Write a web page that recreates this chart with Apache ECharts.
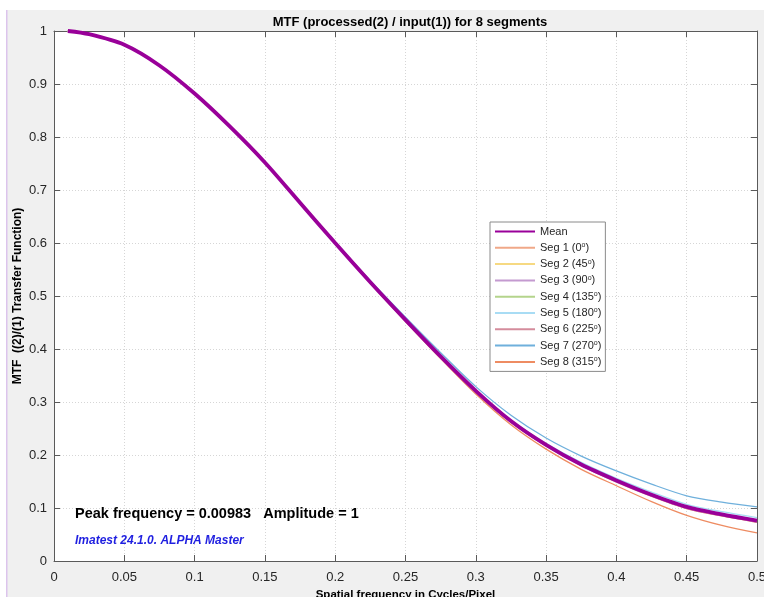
<!DOCTYPE html>
<html lang="en">
<head>
    <meta charset="utf-8">
    <title>MTF</title>
    <script src="https://cdn.jsdelivr.net/npm/echarts@6/dist/echarts.min.js"></script>
    <style>
        html, body { margin: 0; padding: 0; background: #fff; }
        #chart { width: 764px; height: 597px; }
    </style>
</head>
<body>
<div id="chart"></div>
<script>
    // spatial frequency (cycles/pixel)
    var freq = [0.00983, 0.025, 0.05, 0.075, 0.1, 0.125, 0.15, 0.175, 0.2, 0.225, 0.25,
                0.275, 0.3, 0.325, 0.35, 0.375, 0.4, 0.425, 0.45, 0.475, 0.5];

    var meanMtf = [1.000, 0.994, 0.974, 0.935, 0.882, 0.820, 0.752, 0.676, 0.600, 0.526, 0.455,
                   0.386, 0.321, 0.264, 0.219, 0.182, 0.152, 0.125, 0.102, 0.088, 0.076];
    var seg1 = [1.000, 0.994, 0.974, 0.935, 0.882, 0.820, 0.752, 0.676, 0.600, 0.526, 0.455,
                0.386, 0.320, 0.263, 0.218, 0.181, 0.150, 0.123, 0.099, 0.085, 0.073];
    var seg2 = [1.000, 0.994, 0.974, 0.935, 0.882, 0.820, 0.752, 0.676, 0.600, 0.526, 0.455,
                0.386, 0.321, 0.263, 0.218, 0.181, 0.151, 0.124, 0.100, 0.086, 0.074];
    var seg3 = [1.000, 0.994, 0.974, 0.935, 0.882, 0.820, 0.752, 0.676, 0.600, 0.526, 0.455,
                0.386, 0.320, 0.263, 0.218, 0.181, 0.150, 0.123, 0.100, 0.086, 0.074];
    var seg4 = [1.000, 0.994, 0.974, 0.935, 0.882, 0.820, 0.752, 0.676, 0.600, 0.526, 0.455,
                0.386, 0.321, 0.264, 0.219, 0.182, 0.151, 0.124, 0.101, 0.087, 0.075];
    var seg5 = [1.000, 0.994, 0.974, 0.935, 0.882, 0.820, 0.752, 0.676, 0.600, 0.526, 0.455,
                0.387, 0.322, 0.266, 0.222, 0.186, 0.156, 0.130, 0.107, 0.093, 0.082];
    var seg6 = [1.000, 0.994, 0.974, 0.935, 0.882, 0.820, 0.752, 0.676, 0.600, 0.526, 0.454,
                0.385, 0.319, 0.262, 0.217, 0.180, 0.149, 0.122, 0.099, 0.085, 0.073];
    var seg7 = [1.000, 0.994, 0.974, 0.935, 0.882, 0.820, 0.752, 0.677, 0.602, 0.529, 0.460,
                0.393, 0.329, 0.275, 0.232, 0.198, 0.170, 0.145, 0.123, 0.111, 0.102];
    var seg8 = [1.000, 0.994, 0.974, 0.935, 0.882, 0.820, 0.751, 0.675, 0.599, 0.524, 0.452,
                0.382, 0.315, 0.257, 0.211, 0.173, 0.142, 0.112, 0.086, 0.067, 0.053];

    var segNames = ['Seg 1 (0°)', 'Seg 2 (45°)', 'Seg 3 (90°)', 'Seg 4 (135°)',
                    'Seg 5 (180°)', 'Seg 6 (225°)', 'Seg 7 (270°)', 'Seg 8 (315°)'];
    var segData = [seg1, seg2, seg3, seg4, seg5, seg6, seg7, seg8];
    var segColors = ['#f0a888', '#f6d982', '#c49ad0', '#b4d48c', '#a8dcf4', '#d48c9c', '#6fb0dc', '#ee8c62'];

    var xTicks = {min: 0, max: 0.5, interval: 0.05};
    var yTicks = {min: 0, max: 1, interval: 0.1};

    function pairs(ys) {
        return freq.map(function (f, i) { return [f, ys[i]]; });
    }

    var series = segData.map(function (d, i) {
        return {
            name: segNames[i],
            type: 'line',
            data: pairs(d),
            smooth: 0.3,
            symbol: 'none',
            z: 2 + i,
            lineStyle: {color: segColors[i], width: 1.3},
            itemStyle: {color: segColors[i]}
        };
    });
    series.push({
        name: 'Mean',
        type: 'line',
        data: pairs(meanMtf),
        smooth: 0.3,
        symbol: 'none',
        z: 12,
        lineStyle: {color: '#990099', width: 3.8},
        itemStyle: {color: '#990099'}
    });

    var font = '"Liberation Sans", Arial, Helvetica, sans-serif';
    var tickColor = '#262626';
    var axisGray = '#5a5a5a';
    var gridLine = {show: true, lineStyle: {color: '#d6d6d6', type: [1, 2], width: 1}};

    var chart = echarts.init(document.getElementById('chart'), null, {renderer: 'canvas'});
    var option = {
        animation: false,
        backgroundColor: '#f0f0f0',
        textStyle: {fontFamily: font},
        title: {
            text: 'MTF (processed(2) / input(1)) for 8 segments',
            left: 405, top: 11, textAlign: 'center',
            textStyle: {fontSize: 13, fontWeight: 'bold', color: '#000', fontFamily: font}
        },
        grid: {
            left: 54, right: 7, top: 31, bottom: 36,
            outerBoundsMode: 'none', containLabel: false,
            show: true, backgroundColor: '#fff', borderWidth: 0
        },
        legend: {
            data: ['Mean'].concat(segNames),
            orient: 'vertical',
            left: 490, top: 222,
            itemWidth: 40, itemHeight: 12, itemGap: 4.8,
            padding: [4, 4, 4, 4],
            backgroundColor: '#fff',
            borderColor: '#8a8a8a', borderWidth: 1,
            itemStyle: {opacity: 0, borderWidth: 0},
            formatter: function (n) {
                var m = n.match(/^(.*\()(\d+)°\)$/);
                if (!m) return '{t|' + n + '}';
                return '{t|' + m[1] + m[2] + '}{s|o}{t|)}';
            },
            textStyle: {
                color: '#262626', fontSize: 11, fontFamily: font,
                rich: {
                    t: {fontSize: 11, lineHeight: 12, fontFamily: font, color: '#262626'},
                    s: {fontSize: 7, lineHeight: 12, verticalAlign: 'top', fontFamily: font, color: '#262626'}
                }
            }
        },
        xAxis: [{
            type: 'value', min: xTicks.min, max: xTicks.max, interval: xTicks.interval,
            name: 'Spatial frequency in Cycles/Pixel', nameLocation: 'middle', nameGap: 28,
            nameMoveOverlap: false,
            nameTextStyle: {fontSize: 11.5, fontWeight: 'bold', color: '#000', fontFamily: font},
            axisLine: {show: true, onZero: false, lineStyle: {color: axisGray, width: 1}},
            axisTick: {show: true, inside: true, length: 6, lineStyle: {color: axisGray}},
            axisLabel: {fontSize: 13, color: tickColor, margin: 10, fontFamily: font},
            splitLine: gridLine
        }, {
            type: 'value', position: 'top', min: xTicks.min, max: xTicks.max, interval: xTicks.interval,
            axisLine: {show: true, onZero: false, lineStyle: {color: axisGray, width: 1}},
            axisTick: {show: true, inside: true, length: 6, lineStyle: {color: axisGray}},
            axisLabel: {show: false},
            splitLine: {show: false}
        }],
        yAxis: [{
            type: 'value', min: yTicks.min, max: yTicks.max, interval: yTicks.interval,
            name: 'MTF  ((2)/(1) Transfer Function)', nameLocation: 'middle', nameGap: 30,
            nameMoveOverlap: false,
            nameTextStyle: {fontSize: 12, fontWeight: 'bold', color: '#000', fontFamily: font},
            axisLine: {show: true, onZero: false, lineStyle: {color: axisGray, width: 1}},
            axisTick: {show: true, inside: true, length: 6, lineStyle: {color: axisGray}},
            axisLabel: {fontSize: 13, color: tickColor, margin: 7, fontFamily: font},
            splitLine: gridLine
        }, {
            type: 'value', position: 'right', min: yTicks.min, max: yTicks.max, interval: yTicks.interval,
            axisLine: {show: true, onZero: false, lineStyle: {color: axisGray, width: 1}},
            axisTick: {show: true, inside: true, length: 6, lineStyle: {color: axisGray}},
            axisLabel: {show: false},
            splitLine: {show: false}
        }],
        graphic: [
            // white band at the top and the left edge of the figure window
            {type: 'rect', left: 0, top: 0, shape: {width: 764, height: 10}, style: {fill: '#fff'}, z: -1, silent: true},
            {type: 'rect', left: 0, top: 0, shape: {width: 6, height: 597}, style: {fill: '#fff'}, z: -1, silent: true},
            {type: 'rect', left: 6, top: 10, shape: {width: 1.5, height: 587}, style: {fill: '#dcc4ec'}, z: -1, silent: true},
            {
                type: 'text', left: 75, top: 506, z: 20,
                style: {text: 'Peak frequency = 0.00983   Amplitude = 1', fill: '#000', font: 'bold 14.5px ' + font}
            },
            {
                type: 'text', left: 75, top: 535, z: 20,
                style: {text: 'Imatest 24.1.0. ALPHA Master', fill: '#1f1fe0', font: 'italic bold 12px ' + font}
            }
        ],
        series: series
    };
    chart.setOption(option);
</script>
</body>
</html>
